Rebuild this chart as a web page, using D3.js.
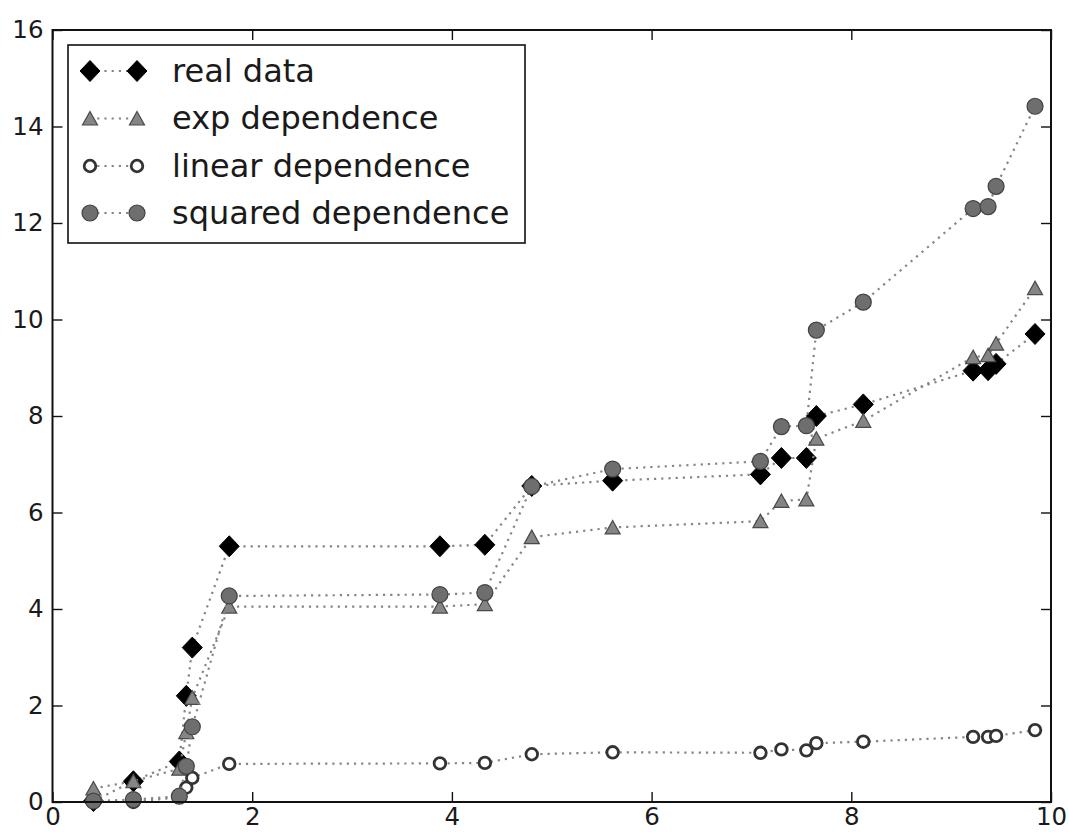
<!DOCTYPE html>
<html>
<head>
<meta charset="utf-8">
<script src="https://cdn.jsdelivr.net/npm/d3@7"></script>
<style>
  html, body { margin: 0; padding: 0; background: #fff; }
  svg { display: block; font-family: "DejaVu Sans", sans-serif; }
</style>
</head>
<body>
<svg id="chart" width="1069" height="832"></svg>
<script>
// Sample positions shared by every series
const xs = [0.41, 0.81, 1.27, 1.34, 1.40, 1.77, 3.88, 4.33, 4.80, 5.61, 7.09, 7.30, 7.55, 7.65, 8.12, 9.22, 9.37, 9.45, 9.84];

// Measured values and the three fitted models
const realData = [0.02, 0.43, 0.84, 2.20, 3.20, 5.30, 5.30, 5.33, 6.55, 6.66, 6.79, 7.13, 7.13, 8.00, 8.24, 8.94, 8.95, 9.08, 9.70];
const expDep = [0.28, 0.43, 0.69, 1.45, 2.16, 4.05, 4.05, 4.10, 5.49, 5.69, 5.82, 6.24, 6.27, 7.53, 7.90, 9.22, 9.26, 9.50, 10.65];
const linearDep = [0.00, 0.00, 0.10, 0.30, 0.50, 0.79, 0.80, 0.81, 0.99, 1.03, 1.02, 1.09, 1.07, 1.22, 1.25, 1.35, 1.35, 1.37, 1.49];
const squaredDep = [0.02, 0.05, 0.12, 0.74, 1.56, 4.27, 4.30, 4.34, 6.54, 6.90, 7.06, 7.78, 7.80, 9.78, 10.36, 12.30, 12.34, 12.76, 14.42];

const xTicks = [0, 2, 4, 6, 8, 10];
const yTicks = [0, 2, 4, 6, 8, 10, 12, 14, 16];

const seriesNames = ["real data", "exp dependence", "linear dependence", "squared dependence"];

const svg = d3.select("#chart");
const L = 52.5, R = 1051, T = 30, B = 802;

const x = d3.scaleLinear().domain([0, 10]).range([L, R]);
const y = d3.scaleLinear().domain([0, 16]).range([B, T]);

// Marker drawing functions (centered on 0,0)
const markers = {
  diamond: g => g.append("path").attr("d", "M0,-10.5L10,0L0,10.5L-10,0Z")
    .attr("fill", "#000").attr("stroke", "#000").attr("stroke-width", 1),
  triangle: g => g.append("path").attr("d", "M0,-7L7.5,6.5L-7.5,6.5Z")
    .attr("fill", "#858585").attr("stroke", "#4a4a4a").attr("stroke-width", 1.2),
  ring: g => g.append("circle").attr("r", 5.8)
    .attr("fill", "#fff").attr("stroke", "#333").attr("stroke-width", 2.8),
  disc: g => g.append("circle").attr("r", 8)
    .attr("fill", "#6e6e6e").attr("stroke", "#424242").attr("stroke-width", 1.2)
};

const series = [
  { name: seriesNames[0], values: realData, marker: "diamond" },
  { name: seriesNames[1], values: expDep, marker: "triangle" },
  { name: seriesNames[2], values: linearDep, marker: "ring" },
  { name: seriesNames[3], values: squaredDep, marker: "disc" }
];

const lineStyle = sel => sel.attr("fill", "none").attr("stroke", "#858585")
  .attr("stroke-width", 2.2).attr("stroke-dasharray", "2.2,5");

const plot = svg.append("g");
const line = d3.line().x(d => x(d[0])).y(d => y(d[1]));

series.forEach(s => {
  const pts = xs.map((xv, i) => [xv, s.values[i]]);
  const g = plot.append("g");
  g.append("path").datum(pts).attr("d", line).call(lineStyle);
  g.selectAll("g.m").data(pts).join("g").attr("class", "m")
    .attr("transform", d => `translate(${x(d[0])},${y(d[1])})`)
    .each(function () { markers[s.marker](d3.select(this)); });
});

// Axes with inward ticks on all four sides
const fontSize = 24.5;
const axB = svg.append("g").attr("transform", `translate(0,${B})`)
  .call(d3.axisBottom(x).tickValues(xTicks).tickSizeInner(-10).tickSizeOuter(0).tickPadding(6).tickFormat(d3.format("d")));
const axL = svg.append("g").attr("transform", `translate(${L},0)`)
  .call(d3.axisLeft(y).tickValues(yTicks).tickSizeInner(-10).tickSizeOuter(0).tickPadding(9).tickFormat(d3.format("d")));
const axT = svg.append("g").attr("transform", `translate(0,${T})`)
  .call(d3.axisTop(x).tickValues(xTicks).tickSizeInner(-10).tickSizeOuter(0).tickFormat(""));
const axR = svg.append("g").attr("transform", `translate(${R},0)`)
  .call(d3.axisRight(y).tickValues(yTicks).tickSizeInner(-10).tickSizeOuter(0).tickFormat(""));

[axB, axL, axT, axR].forEach(a => {
  a.select(".domain").remove();
  a.selectAll("line").attr("stroke", "#111").attr("stroke-width", 1.4);
  a.selectAll("text").attr("font-size", fontSize).attr("fill", "#1a1a1a")
    .attr("font-family", "DejaVu Sans, sans-serif");
});

// Frame
svg.append("rect").attr("x", L).attr("y", T).attr("width", R - L).attr("height", B - T)
  .attr("fill", "none").attr("stroke", "#111").attr("stroke-width", 2);

// Legend
const lg = svg.append("g");
lg.append("rect").attr("x", 68).attr("y", 45).attr("width", 457).attr("height", 198)
  .attr("fill", "#fff").attr("stroke", "#111").attr("stroke-width", 1.6);
const rowY = [71, 118.5, 166, 213];
series.forEach((s, i) => {
  const ry = rowY[i];
  lg.append("line").attr("x1", 90).attr("x2", 137).attr("y1", ry).attr("y2", ry).call(lineStyle);
  [90, 137].forEach(mx => {
    const g = lg.append("g").attr("transform", `translate(${mx},${ry})`);
    markers[s.marker](g);
  });
  lg.append("text").attr("x", 172).attr("y", ry).attr("dy", "0.33em")
    .attr("font-size", 32).attr("fill", "#1a1a1a").text(s.name);
});
</script>
</body>
</html>
